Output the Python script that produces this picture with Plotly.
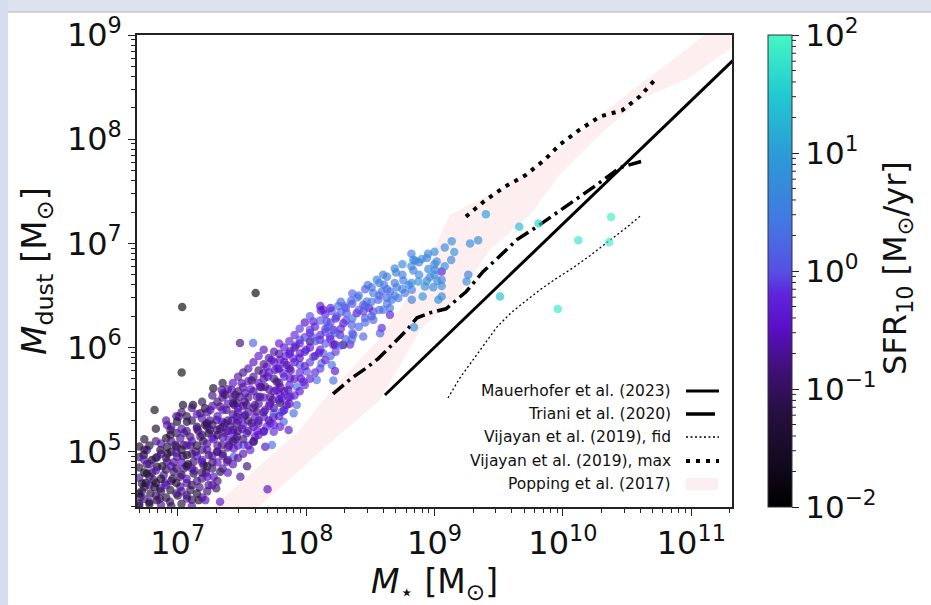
import numpy as np
import plotly.graph_objects as go

# ---------------- data (log10 values) ----------------
# individually read galaxies: log10 M*, log10 Mdust, log10 SFR10
log_mstar = [
 7.035,7.607,7.031,6.82,7.485,7.587,7.70,7.33,7.54,
 9.40,9.66,9.81,10.375,10.12,10.36,9.51,9.96,9.134,9.277,9.34,9.154,9.13,9.263,9.25,9.056,9.056,9.056,9.056,
 8.85,8.835,9.017,8.952,9.004,8.965,9.022,8.874,8.926,8.99,8.908,9.03,8.757,8.706,8.823,8.77,8.823,8.607,8.653,8.589,
 8.628,8.667,8.718,8.523,8.562,8.472,8.653,8.653,8.601,8.523,8.445,8.394,8.459,8.523,8.589,8.576,8.355,8.29,8.264,
 8.368,8.445,8.16,8.212,8.134,8.225,8.342,8.84,8.49,8.835,
 8.114,8.056,8.238,8.316,8.445,8.173,8.03,7.952,8.03,8.108,8.212,8.29,8.355,8.186,7.875,7.952,8.056,8.134,8.12,8.2,
 8.225,8.083,8.212,8.005,7.927,7.797,7.732,7.758,7.822,7.875,7.576,7.667,7.498,7.68,7.771,7.81,7.797,7.861,7.927,
 7.822,7.745,7.797,7.693,7.628,7.576,7.615,7.537,7.485,7.42,7.355,7.433,7.46,7.524,7.46,7.33,7.277,7.343,7.213,
 7.304,7.368,7.433,7.537,7.602,7.252,7.213,
 7.693,7.849,7.9,7.771,7.952,7.978,7.861,7.641,7.719,7.849,7.641,
 7.041,7.119,6.917,6.943,7.008,6.995,7.072,7.15,7.228,6.943,6.761,6.735,6.8,6.865,6.917,6.981,7.047,7.02,7.098,
 7.176,7.241,7.306,7.345,7.41,7.462,7.514,7.604,7.67,7.748,7.812,7.721,7.748,7.592,7.514,7.682,7.734,7.436,7.488,
 7.28,7.332,7.384,7.241,7.306,7.202,7.124,7.072,6.995,6.917,6.839,6.761,6.722,6.813,6.891,6.969,7.047,7.124,7.189,
 7.241,7.02,7.098,6.943,6.865,6.787,6.709,6.839,7.072,7.163,7.215,7.825,7.864,7.903,7.67,7.462,7.397,7.345,7.436,
 7.565,7.371,7.449,7.527,7.618,7.721,7.799,7.877,7.176,7.254,
 6.70,6.72,6.75,6.76,6.78,6.80,6.82,6.84,6.86,6.88,6.90,6.92,6.94,6.96,6.97,6.99,7.00,7.02,7.04,7.05,7.07,7.08,
 7.10,7.11,7.13,7.14,7.16,7.17,7.19,7.20,7.22,7.23,7.25,7.27,7.28,7.30,7.31,7.33,7.35,7.37,7.38,7.40,7.42,7.44,
 7.45,7.47,7.50,7.52,7.55,7.57,7.60,7.62,7.65,7.68,7.70,7.74,7.78,7.80,7.84,7.88,7.92,7.96,8.00,8.05,8.10,8.15,
 8.20,8.25,8.30,8.35,8.40,8.48,8.55,8.60,8.70,8.75,8.80,8.90,8.95,9.00,
]
log_mdust = [
 6.39,6.523,5.76,5.40,6.045,6.045,4.64,4.52,4.86,
 7.28,7.16,7.19,7.254,7.03,7.01,6.49,6.37,7.02,7.00,7.03,6.917,6.84,6.70,6.635,6.73,6.65,6.59,6.49,
 6.834,6.74,6.827,6.754,6.747,6.677,6.638,6.635,6.587,6.58,6.49,6.46,6.644,6.58,6.555,6.523,6.459,6.603,6.538,6.538,
 6.475,6.459,6.475,6.523,6.459,6.442,6.379,6.314,6.362,6.346,6.346,6.33,6.283,6.266,6.187,6.138,6.218,6.234,6.122,
 6.122,6.106,6.25,6.17,6.362,6.03,6.03,6.196,6.38,6.843,
 6.355,6.25,6.298,6.33,6.41,6.2,6.17,6.074,6.058,6.074,6.026,6.026,6.074,6.106,5.962,5.946,5.913,5.946,5.85,5.834,
 5.776,5.69,5.683,5.77,5.625,5.882,5.882,5.786,5.754,5.706,5.683,5.754,5.658,5.625,5.593,5.513,5.471,5.523,5.449,
 5.394,5.331,5.24,5.24,5.273,5.273,5.385,5.449,5.529,5.593,5.561,5.465,5.465,5.353,5.337,5.433,5.61,5.593,5.417,
 5.305,5.273,5.209,5.177,5.144,5.209,5.257,
 5.817,5.834,5.898,5.673,5.834,5.673,5.593,5.529,5.465,5.449,5.625,
 5.449,5.449,5.257,5.209,5.337,5.289,5.289,5.24,5.273,5.16,5.016,4.968,4.92,5.016,5.048,5.064,5.064,5.128,5.144,
 5.144,5.177,5.209,5.289,5.24,5.273,5.337,5.337,5.337,5.369,5.385,5.273,5.192,5.096,5.064,5.048,5.064,4.952,4.76,
 4.76,4.808,4.904,4.968,5.0,4.872,4.904,4.968,4.952,4.904,4.856,4.792,4.696,4.728,4.776,4.808,4.84,4.792,4.744,
 4.68,4.664,4.632,4.632,4.648,4.6,4.567,4.536,4.552,4.536,4.536,5.289,5.209,5.369,5.192,5.144,5.112,5.064,5.032,
 5.016,5.545,5.545,5.561,5.529,5.529,5.545,5.529,5.369,5.40,
 4.50,4.62,4.70,4.88,4.52,4.80,4.66,4.95,4.55,4.86,4.70,4.98,4.52,4.74,4.90,5.05,4.58,4.76,4.96,5.18,4.70,4.88,
 5.06,4.54,4.82,5.00,5.20,4.66,4.92,5.10,4.80,5.02,5.30,4.90,5.12,4.65,5.00,5.22,4.96,5.18,5.40,5.06,5.30,5.45,
 5.12,5.38,5.22,5.48,5.30,5.60,5.45,5.20,5.62,5.40,5.72,5.50,5.80,5.62,5.92,5.78,6.02,5.70,5.98,6.10,5.95,6.15,
 6.35,6.40,6.40,6.45,6.48,6.60,6.65,6.70,6.72,6.80,6.60,6.85,6.90,6.80,
]
log_sfr = [
 -1.8,-1.8,-1.7,-1.6,-0.9,0.2,-0.5,-0.4,-0.9,
 1.0,1.3,1.6,1.9,1.8,1.9,1.4,1.8,0.8,0.8,0.8,0.9,0.7,0.6,0.8,-0.3,0.6,0.7,0.6,
 0.6,0.5,0.7,0.7,0.6,0.8,0.8,0.9,0.8,0.7,0.9,0.8,0.5,0.5,0.6,0.4,0.5,0.4,0.3,0.3,
 0.2,0.3,0.4,0.4,0.2,0.4,0.4,-0.3,0.3,0.0,-0.1,-0.4,0.1,0.2,-0.2,0.1,0.1,-0.4,-0.3,
 0.1,0.2,-0.1,-0.5,-0.4,-0.6,-0.2,0.8,-0.3,0.7,
 -0.4,-0.3,0.2,0.1,0.1,0.2,0.0,0.1,-1.0,-0.3,-0.5,-1.0,0.2,-0.2,-0.4,-0.3,0.1,0.2,0.3,0.3,
 -0.4,0.4,0.3,0.0,0.3,-0.5,-0.5,-0.6,-0.2,-0.4,-1.3,-0.6,-0.6,-0.7,-0.5,-0.2,-1.2,-0.5,0.2,
 0.2,-0.5,-0.4,-0.2,-0.6,-1.0,-0.8,-0.9,-0.7,-0.4,-0.8,-1.2,-0.8,-1.0,-0.6,-0.7,-1.6,-0.6,-1.5,
 -0.7,-0.9,-0.7,-0.4,-0.5,-1.0,-1.5,
 -0.5,-0.7,-0.2,-0.9,0.1,-0.3,-0.6,-1.0,-0.6,-0.5,-0.5,
 -1.6,-1.7,-0.3,-0.8,-0.6,-1.5,-1.6,-1.4,-1.7,-1.5,-0.6,-1.7,-1.8,-1.6,-1.2,-1.3,-0.8,-0.7,-0.9,
 -0.7,-1.4,-0.6,-0.5,-0.8,-0.9,-0.6,-0.4,-0.3,0.2,0.3,-0.3,-0.2,-1.0,0.2,-0.5,0.3,0.0,-0.7,
 -0.5,-1.4,-0.6,-0.8,-1.0,-1.2,-0.9,-1.6,-0.7,-0.8,-1.6,-1.7,-1.3,-0.8,-0.7,-1.0,-0.6,-1.3,-0.8,
 -0.7,-0.6,-1.0,-1.4,-0.7,-1.2,-0.8,-1.5,-0.5,-1.6,-0.5,0.2,-0.4,0.3,-0.6,-0.7,-0.5,-0.8,-0.4,
 -0.3,-1.0,-0.9,-0.5,-0.6,-0.8,-0.4,-0.3,-1.2,-0.6,
 -1.5,-0.9,-1.8,-1.0,-0.7,-1.1,-1.6,-0.9,-1.0,-1.4,-0.6,-1.7,-0.9,-1.2,-0.7,-1.0,-1.3,-0.8,-1.1,-0.6,-0.7,-1.5,
 -0.8,-1.1,-0.6,-1.0,-0.9,-0.8,-0.5,-1.2,-1.0,-0.6,-0.8,-0.9,-0.5,-1.0,-0.7,-1.1,-0.4,-0.7,-0.9,-0.6,-0.5,-1.0,
 -0.8,-0.6,-0.5,-0.7,-0.9,-0.4,-0.6,-0.3,-0.8,-0.5,-0.4,-0.7,-0.3,-0.6,-0.2,-0.5,-0.1,-0.4,-0.2,0.0,-0.3,0.1,
 0.2,0.3,0.4,0.3,0.5,0.4,0.6,0.5,0.6,0.7,0.6,0.8,0.6,0.8,
]

# dense part of the cloud, read column by column: one log10 M* per column,
# with the log10 Mdust and log10 SFR10 of the galaxies in that column
col_logm = [6.70, 6.74, 6.78, 6.83, 6.87, 6.91, 6.95, 6.99, 7.03, 7.07, 7.11, 7.15, 7.19, 7.23, 7.27,
            7.31, 7.35, 7.39, 7.43, 7.47, 7.51, 7.55, 7.59, 7.63, 7.67, 7.71, 7.75, 7.79, 7.83, 7.87,
            7.91, 7.95, 7.99, 8.03, 8.07, 8.11, 8.15, 8.19, 8.23, 8.27, 8.31, 8.36, 8.41, 8.46, 8.51,
            8.57, 8.63, 8.69, 8.75, 8.82, 8.88, 8.94, 9.00, 9.08]
col_logd = [
 [4.48,4.60,4.75,4.85,4.95,5.05], [4.55,4.66,4.80,4.92,5.02,5.12], [4.50,4.68,4.76,4.88,5.06],
 [4.58,4.70,4.82,4.94,5.10,5.22], [4.49,4.62,4.74,4.98,5.08], [4.56,4.68,4.83,4.94,5.13,5.30],
 [4.48,4.72,4.86,5.00,5.10,5.24], [4.60,4.70,4.84,4.99,5.18,5.34], [4.50,4.62,4.78,4.90,5.02,5.22,5.38],
 [4.58,4.74,4.86,5.06,5.20,5.34], [4.48,4.68,4.84,4.98,5.10,5.30,5.42], [4.60,4.72,4.96,5.06,5.22,5.36],
 [4.56,4.80,4.90,5.02,5.16,5.32,5.48], [4.62,4.76,4.86,5.08,5.24,5.38], [4.68,4.84,4.96,5.14,5.26,5.44,5.54],
 [4.72,4.90,5.06,5.16,5.34,5.48], [4.84,4.98,5.14,5.24,5.40,5.52,5.66], [4.80,4.92,5.04,5.20,5.30,5.46,5.60],
 [4.88,5.10,5.18,5.36,5.52,5.66], [4.94,5.06,5.20,5.30,5.42,5.58,5.72], [4.98,5.12,5.26,5.44,5.62,5.76],
 [5.06,5.20,5.38,5.52,5.68,5.80], [5.10,5.24,5.42,5.58,5.72,5.86], [5.16,5.30,5.46,5.66,5.78,5.92],
 [5.20,5.38,5.52,5.70,5.84,5.98], [5.30,5.44,5.60,5.76,5.90], [5.26,5.42,5.58,5.70,5.86,5.96],
 [5.34,5.50,5.66,5.80,5.94,6.04], [5.40,5.58,5.72,5.86,6.00], [5.46,5.64,5.80,5.94,6.06],
 [5.54,5.70,5.86,6.00,6.12], [5.58,5.76,5.90,6.04,6.18], [5.64,5.82,5.96,6.10,6.24],
 [5.70,5.86,6.00,6.14,6.30], [5.76,5.92,6.06,6.20], [5.80,5.98,6.12,6.26,6.40],
 [5.88,6.04,6.18,6.32], [5.92,6.08,6.24,6.38], [5.96,6.14,6.28],
 [6.02,6.18,6.34,6.44], [6.08,6.26,6.38], [6.14,6.28,6.42,6.52],
 [6.20,6.36,6.50], [6.24,6.40,6.56], [6.30,6.44,6.58],
 [6.36,6.50,6.62], [6.42,6.56,6.68], [6.50,6.62,6.76],
 [6.56,6.70], [6.62,6.78,6.90], [6.70,6.82], [6.64,6.86], [6.70,6.92], [6.78,6.96],
]
col_logsfr = [
 [-1.0,-1.6,-0.7,-1.3,-0.9,-1.5], [-0.8,-1.2,-1.6,-0.6,-1.1,-1.4], [-1.7,-0.8,-1.0,-0.7,-1.3],
 [-0.9,-1.4,-0.6,-1.0,-0.8,-1.5], [-0.7,-1.1,-1.5,-0.8,-0.6], [-1.3,-0.6,-1.0,-0.9,-1.6,-0.7],
 [-1.0,-0.8,-0.6,-1.5,-0.7,-0.9], [-0.8,-1.6,-0.9,-0.6,-1.0,-0.8], [-1.2,-0.7,-1.0,-0.5,-1.3,-0.6,-0.9],
 [-0.9,-0.6,-1.4,-0.7,-0.8,-1.1], [-0.6,-1.1,-0.7,-0.9,-0.5,-1.0,-0.8], [-1.5,-0.8,-0.6,-1.2,-0.7,-0.5],
 [-0.7,-1.0,-0.6,-0.8,-0.9,-0.6,-1.1], [-0.9,-0.5,-1.3,-0.6,-0.8,-0.7], [-0.6,-0.9,-0.7,-0.5,-1.0,-0.6,-0.8],
 [-0.8,-0.5,-0.7,-1.1,-0.6,-0.9], [-0.7,-0.9,-0.6,-0.8,-0.5,-0.7,-1.2], [-0.5,-0.8,-0.7,-0.6,-0.9,-0.6,-0.7],
 [-0.6,-0.9,-0.5,-0.7,-0.8,-0.5], [-0.7,-0.5,-0.8,-0.6,-0.5,-0.9,-0.6], [-0.6,-0.8,-0.5,-0.7,-0.6,-0.8],
 [-0.5,-0.7,-0.6,-0.8,-0.5,-0.6], [-0.7,-0.4,-0.8,-0.6,-0.7,-0.5], [-0.5,-0.6,-0.7,-0.5,-0.9,-0.4],
 [-0.4,-0.7,-0.5,-0.6,-0.7,-0.5], [-0.6,-0.5,-0.7,-0.4,-0.6], [-0.3,-0.6,-0.5,-0.8,-0.4,-0.6],
 [-0.5,-0.4,-0.7,-0.5,-0.6,-0.3], [-0.4,-0.6,-0.3,-0.5,-0.4], [-0.5,-0.3,-0.6,-0.4,-0.2],
 [-0.3,-0.5,-0.4,-0.6,-0.2], [-0.4,-0.2,-0.5,-0.3,-0.1], [-0.2,-0.4,-0.3,-0.1,-0.5],
 [-0.3,-0.1,-0.4,-0.2,0.0], [-0.2,-0.4,0.0,-0.3], [-0.1,-0.3,-0.2,0.1,-0.4],
 [-0.3,0.0,-0.1,-0.2], [0.1,-0.2,0.0,-0.3], [-0.1,0.2,-0.2],
 [0.0,-0.2,0.1,0.2], [0.2,-0.1,0.0], [0.1,0.3,0.0,0.2],
 [0.2,0.0,0.3], [0.3,0.2,0.1], [0.1,0.4,0.3],
 [0.3,0.2,0.5], [0.4,0.3,0.5], [0.5,0.4,0.6],
 [0.5,0.6], [0.6,0.7,0.5], [0.7,0.6], [0.8,0.7], [0.7,0.8], [0.8,0.7],
]

# Mauerhofer et al. (2023)
mauer_logm = [8.614, 11.40]
mauer_logd = [5.545, 8.845]
# Triani et al. (2020)
triani_logm = [8.210, 8.357, 8.459, 8.560, 8.786, 8.864, 8.965, 9.090, 9.246, 9.378, 9.495,
               9.643, 9.799, 9.955, 10.079, 10.266, 10.445, 10.609]
triani_logd = [5.555, 5.709, 5.795, 5.892, 6.170, 6.286, 6.334, 6.372, 6.536, 6.728, 6.863,
               7.036, 7.161, 7.295, 7.401, 7.565, 7.728, 7.786]
# Vijayan et al. (2019), fid
vfid_logm = [9.105, 9.198, 9.300, 9.393, 9.487, 9.604, 9.728, 9.822, 9.946, 10.079, 10.211, 10.343, 10.484, 10.616]
vfid_logd = [5.516, 5.709, 5.882, 6.045, 6.199, 6.343, 6.459, 6.555, 6.661, 6.766, 6.882, 7.007, 7.141, 7.276]
# Vijayan et al. (2019), max
vmax_logm = [9.245, 9.393, 9.549, 9.705, 9.860, 9.977, 10.133, 10.289, 10.460, 10.600, 10.733]
vmax_logd = [7.257, 7.411, 7.545, 7.651, 7.805, 7.949, 8.093, 8.218, 8.276, 8.411, 8.593]
# Popping et al. (2017) band: upper edge and lower edge
pop_up_logm = [7.275, 7.952, 8.186, 8.575, 8.887, 9.120, 9.510, 9.977, 10.445, 10.912, 11.107]
pop_up_logd = [4.468, 5.209, 5.574, 6.093, 6.651, 7.276, 7.516, 7.901, 8.382, 8.814, 9.006]
pop_lo_logm = [7.625, 7.952, 8.186, 8.575, 8.887, 9.160, 9.432, 9.744, 9.977, 10.289, 10.600, 10.990, 11.317, 11.317]
pop_lo_logd = [4.468, 4.824, 5.084, 5.497, 6.170, 6.459, 6.939, 7.276, 7.661, 8.045, 8.382, 8.593, 8.881, 9.006]

legend_labels = ["Mauerhofer et al. (2023)", "Triani et al. (2020)", "Vijayan et al. (2019), fid",
                 "Vijayan et al. (2019), max", "Popping et al. (2017)"]
x_ticks = [7, 8, 9, 10, 11]
y_ticks = [5, 6, 7, 8, 9]
c_ticks = [-2, -1, 0, 1, 2]

# ---------------- figure ----------------
W, H = 931, 605
ML, MR, MT, MB = 137, 199, 35, 98
PW, PH = W - ML - MR, H - MT - MB
def PX(px):
    return (px - ML) / PW
def PY(py):
    return (H - MB - py) / PH

FONT = "DejaVu Sans"
colorscale = [
    [0.0, "#000000"], [0.1, "#140a22"], [0.2, "#260f40"], [0.3, "#42107c"],
    [0.38, "#5a0ec6"], [0.45, "#5e24dc"], [0.5, "#5650e4"], [0.6, "#4476e2"],
    [0.75, "#2a9cd6"], [0.87, "#22c8d2"], [1.0, "#44f7c6"],
]
POP = "#fdeef0"

def p10(a):
    return list(10 ** np.array(a, dtype=float))

# assemble the galaxy table
all_m = list(log_mstar)
all_d = list(log_mdust)
all_c = list(log_sfr)
for m, ds, cs in zip(col_logm, col_logd, col_logsfr):
    for d, c in zip(ds, cs):
        all_m.append(m)
        all_d.append(d)
        all_c.append(c)

fig = go.Figure()

band_x = p10(pop_up_logm) + p10(pop_lo_logm[::-1])
band_y = p10(pop_up_logd) + p10(pop_lo_logd[::-1])
fig.add_trace(go.Scatter(x=band_x, y=band_y, fill="toself", fillcolor=POP,
                         line=dict(width=0), mode="lines", hoverinfo="skip", showlegend=False))

fig.add_trace(go.Scatter(x=p10(mauer_logm), y=p10(mauer_logd), mode="lines",
                         line=dict(color="black", width=3), showlegend=False))
fig.add_trace(go.Scatter(x=p10(triani_logm), y=p10(triani_logd), mode="lines",
                         line=dict(color="black", width=3.5, dash="14px,5px,3px,5px"), showlegend=False))
fig.add_trace(go.Scatter(x=p10(vfid_logm), y=p10(vfid_logd), mode="lines",
                         line=dict(color="black", width=1.3, dash="2px,2.5px"), showlegend=False))
fig.add_trace(go.Scatter(x=p10(vmax_logm), y=p10(vmax_logd), mode="lines",
                         line=dict(color="black", width=4, dash="4px,6px"), showlegend=False))

cb_left = 768
cb_thick = 24
fig.add_trace(go.Scatter(
    x=p10(all_m), y=p10(all_d), mode="markers", showlegend=False,
    marker=dict(size=8.5, color=all_c, cmin=-2, cmax=2, colorscale=colorscale, opacity=0.66,
                line=dict(width=0),
                colorbar=dict(x=PX(cb_left), xanchor="left", xpad=0, y=0.5, yanchor="middle",
                              len=1, lenmode="fraction", ypad=0, thickness=cb_thick,
                              outlinewidth=1, outlinecolor="#333",
                              tickvals=c_ticks,
                              ticktext=["10<sup>\u2212%d</sup>" % (-v) if v < 0 else "10<sup>%d</sup>" % v for v in c_ticks],
                              ticks="outside", ticklen=7, tickwidth=1.3, tickcolor="#222",
                              tickfont=dict(family=FONT, size=31, color="#111")))))

axis_common = dict(type="log", showgrid=False, zeroline=False, showline=True, linecolor="#222",
                   linewidth=1.5, mirror=True, ticks="outside", ticklen=7, tickwidth=1.3,
                   tickcolor="#222", tickfont=dict(family=FONT, size=32, color="#111"),
                   automargin=False,
                   minor=dict(ticks="outside", ticklen=4, tickwidth=1, tickcolor="#222",
                              dtick="D1", showgrid=False))
fig.update_xaxes(**axis_common, range=[6.683, 11.317],
                 tickvals=[10 ** v for v in x_ticks],
                 ticktext=["10<sup>%d</sup>" % v for v in x_ticks],
                 title=dict(text="<i>M</i><sub>\u22c6</sub> [M<sub>\u2299</sub>]", standoff=6,
                            font=dict(family=FONT, size=33, color="#111")))
fig.update_yaxes(**axis_common, range=[4.47, 9.0],
                 tickvals=[10 ** v for v in y_ticks],
                 ticktext=["10<sup>%d</sup>" % v for v in y_ticks],
                 title=dict(text="<i>M</i><sub>dust</sub> [M<sub>\u2299</sub>]", standoff=10,
                            font=dict(family=FONT, size=34, color="#111")))

shapes = []
# slide-like background bands
shapes.append(dict(type="rect", xref="paper", yref="paper", x0=PX(0), x1=PX(W), y0=PY(12), y1=PY(0),
                   fillcolor="#dde2ee", line=dict(width=0), layer="below"))
shapes.append(dict(type="line", xref="paper", yref="paper", x0=PX(0), x1=PX(W), y0=PY(12), y1=PY(12),
                   line=dict(color="#c4c8d3", width=1.5), layer="below"))
shapes.append(dict(type="rect", xref="paper", yref="paper", x0=PX(0), x1=PX(8), y0=PY(H), y1=PY(0),
                   fillcolor="#d5ddef", line=dict(width=0), layer="below"))

# colorbar minor ticks
cb_right = PX(cb_left + cb_thick)
for d in range(-2, 2):
    for k in range(2, 10):
        yy = (d + np.log10(k) + 2) / 4.0
        shapes.append(dict(type="line", xref="paper", yref="paper", x0=cb_right, x1=PX(cb_left + cb_thick + 4),
                           y0=yy, y1=yy, line=dict(color="#222", width=1)))

annotations = []
# colorbar title
annotations.append(dict(xref="paper", yref="paper", x=PX(897), y=PY(268), textangle=-90,
                        text="SFR<sub>10</sub> [M<sub>\u2299</sub>/yr]", showarrow=False,
                        xanchor="center", yanchor="middle", font=dict(family=FONT, size=32, color="#111")))

# manual legend (text before symbol)
rows = [391, 414, 437, 461, 484]
styles = [dict(color="black", width=3.2), dict(color="black", width=3.5),
          dict(color="black", width=1.3, dash="2px,2.5px"), dict(color="black", width=4, dash="4px,6px"), None]
for lab, ry, st in zip(legend_labels, rows, styles):
    annotations.append(dict(xref="paper", yref="paper", x=PX(673), y=PY(ry), text=lab, showarrow=False,
                            xanchor="right", yanchor="middle", font=dict(family=FONT, size=15.5, color="#111")))
    if st is None:
        shapes.append(dict(type="rect", xref="paper", yref="paper", x0=PX(686), x1=PX(718),
                           y0=PY(ry + 6), y1=PY(ry - 6), fillcolor=POP, line=dict(width=0)))
    else:
        x1 = 715 if st.get("width") == 3.5 else 719
        shapes.append(dict(type="line", xref="paper", yref="paper", x0=PX(686), x1=PX(x1),
                           y0=PY(ry), y1=PY(ry), line=st))

fig.update_layout(width=W, height=H, margin=dict(l=ML, r=MR, t=MT, b=MB, autoexpand=False),
                  paper_bgcolor="white", plot_bgcolor="white", shapes=shapes, annotations=annotations,
                  font=dict(family=FONT, color="#111"))
fig.write_html("out.html")
